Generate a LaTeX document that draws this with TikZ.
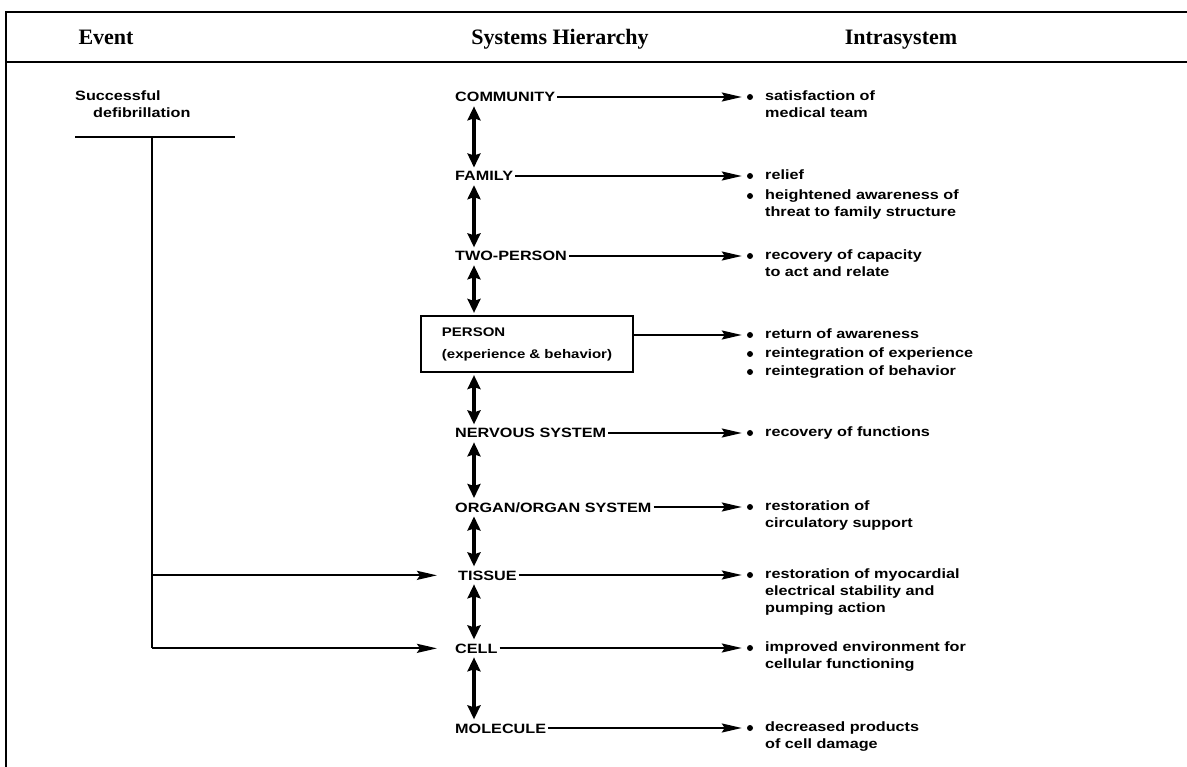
\documentclass[tikz,border=0pt]{standalone}
\usepackage{fontspec}
\setmainfont{Liberation Serif}
\newfontfamily\bodyf[FakeStretch=1.2]{Liberation Sans}
\usetikzlibrary{arrows.meta,calc}
\tikzset{
  lbl/.style={font=\bodyf\bfseries\fontsize{13.5}{17}\selectfont, anchor=base west, inner sep=2pt},
  res/.style={font=\bodyf\bfseries\fontsize{13.5}{17}\selectfont, anchor=base west, align=left, inner sep=0pt},
  hdr/.style={font=\bfseries\fontsize{22}{24}\selectfont, anchor=base},
  frame/.style={line width=2pt},
  arr/.style={line width=2.2pt, -{Stealth[length=20pt,width=9pt,inset=3pt]}, shorten >=5pt},
  dbl/.style={line width=3.2pt, {Stealth[length=14pt,width=13pt,inset=2pt]}-{Stealth[length=14pt,width=13pt,inset=2pt]}, shorten >=2pt, shorten <=2pt},
  bul/.style={circle, fill, inner sep=0pt, minimum size=6pt},
  pbox/.style={draw, line width=2.2pt, align=left, inner xsep=20pt, inner ysep=0pt,
    minimum width=212pt, minimum height=56pt,
    font=\bodyf\bfseries\fontsize{12.5}{22}\selectfont},
  evline/.style={line width=2.4pt},
}
\begin{document}
\begin{tikzpicture}[x=1pt,y=-1pt]
\useasboundingbox (0,0) rectangle (1187,767);
% frame
\draw[frame] (6,767) -- (6,12) -- (1187,12);
\draw[frame] (6,62) -- (1187,62);
% headers
\node[hdr] (ev) at (106,45) {Event};
\node[hdr] (sh) at (560,45) {Systems Hierarchy};
\node[hdr] (is) at (901,45) {Intrasystem};
% event
\node[res] (succ) at (75,117.5) {Successful\\\hspace*{18pt}defibrillation};
\coordinate (barL) at (75,137);
\coordinate (barR) at (235,137);
\coordinate (v0) at (152,137);
\draw[evline] (barL) -- (barR);
% hierarchy
\coordinate (ax) at (474,0);
\node[lbl] (h1) at (453,102) {COMMUNITY};
\node[lbl] (h2) at (453,181) {FAMILY};
\node[lbl] (h3) at (453,261) {TWO-PERSON};
\node[pbox] (per) at (527,344) {PERSON\\(experience \& behavior)};
\node[lbl] (h5) at (453,438) {NERVOUS SYSTEM};
\node[lbl] (h6) at (453,512) {ORGAN/ORGAN SYSTEM};
\node[lbl] (h7) at (456,580) {TISSUE};
\node[lbl] (h8) at (453,653) {CELL};
\node[lbl] (h9) at (453,733) {MOLECULE};
% double arrows
\draw[dbl] (h1.south -| ax) -- (h2.north -| ax);
\draw[dbl] (h2.south -| ax) -- (h3.north -| ax);
\draw[dbl] (h3.south -| ax) -- (per.north -| ax);
\draw[dbl] (per.south -| ax) -- (h5.north -| ax);
\draw[dbl] (h5.south -| ax) -- (h6.north -| ax);
\draw[dbl] (h6.south -| ax) -- (h7.north -| ax);
\draw[dbl] (h7.south -| ax) -- (h8.north -| ax);
\draw[dbl] (h8.south -| ax) -- (h9.north -| ax);
% event branches
\draw[evline] (v0) -- (h8.west -| v0);
\draw[arr, shorten >=16pt] (h8.west -| v0) -- (h8.west);
\draw[arr, shorten >=19pt] (h7.west -| v0) -- (h7.west);
% bullets
\node[bul] (b1) at (750,97) {};
\node[bul] (b2) at (750,176) {};
\node[bul] (b2b) at (750,196) {};
\node[bul] (b3) at (750,256) {};
\node[bul] (b4) at (750,335) {};
\node[bul] (b4b) at (750,354) {};
\node[bul] (b4c) at (750,372) {};
\node[bul] (b5) at (750,433) {};
\node[bul] (b6) at (750,507) {};
\node[bul] (b7) at (750,575) {};
\node[bul] (b8) at (750,648) {};
\node[bul] (b9) at (750,728) {};
% results
\node[res] (t1) at (765,117.5) {satisfaction of\\medical team};
\node[res] (t2) at (765,179.5) {relief};
\node[res] (t2b) at (765,216.5) {heightened awareness of\\threat to family structure};
\node[res] (t3) at (765,276.5) {recovery of capacity\\to act and relate};
\node[res] (t4) at (765,338.5) {return of awareness};
\node[res] (t4b) at (765,357.5) {reintegration of experience};
\node[res] (t4c) at (765,375.5) {reintegration of behavior};
\node[res] (t5) at (765,436.5) {recovery of functions};
\node[res] (t6) at (765,527.5) {restoration of\\circulatory support};
\node[res] (t7) at (765,612.5) {restoration of myocardial\\electrical stability and\\pumping action};
\node[res] (t8) at (765,668.5) {improved environment for\\cellular functioning};
\node[res] (t9) at (765,748.5) {decreased products\\of cell damage};
% level arrows
\draw[arr] (h1.east |- b1) -- (b1);
\draw[arr] (h2.east |- b2) -- (b2);
\draw[arr] (h3.east |- b3) -- (b3);
\draw[arr] (per.east |- b4) -- (b4);
\draw[arr] (h5.east |- b5) -- (b5);
\draw[arr] (h6.east |- b6) -- (b6);
\draw[arr] (h7.east |- b7) -- (b7);
\draw[arr] (h8.east |- b8) -- (b8);
\draw[arr] (h9.east |- b9) -- (b9);
\end{tikzpicture}
\end{document}
